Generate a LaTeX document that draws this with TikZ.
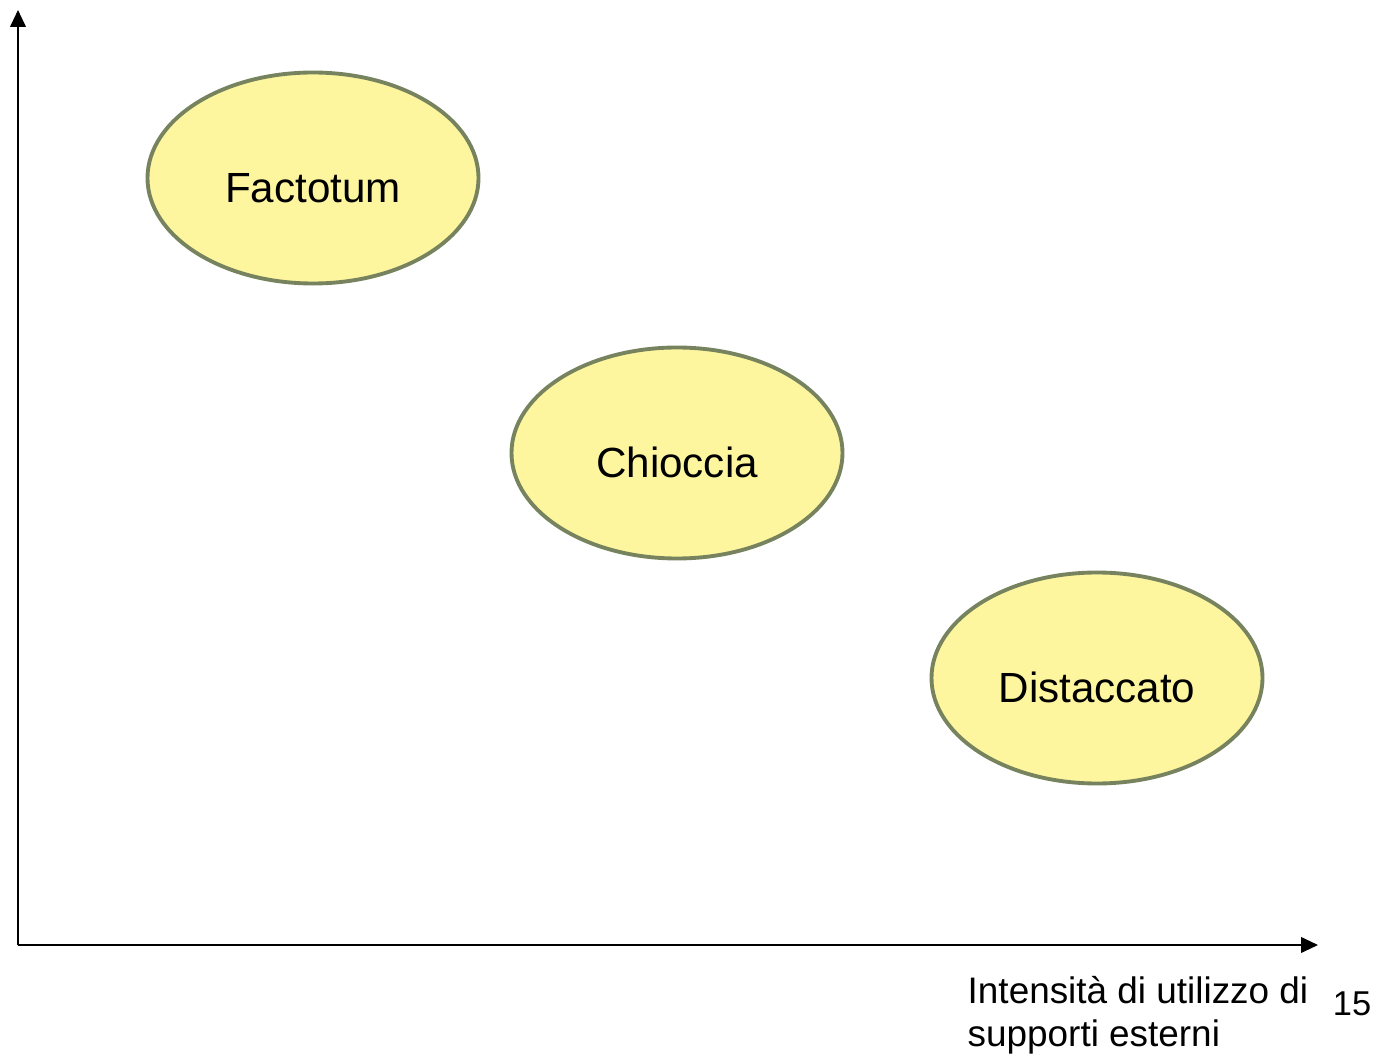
\documentclass[tikz,border=0pt]{standalone}
\usepackage{fontspec}
\setmainfont{Liberation Sans}
\usetikzlibrary{positioning}
\usetikzlibrary{shapes.geometric}
\usetikzlibrary{arrows.meta}

\definecolor{blobfill}{HTML}{FEF69F}
\definecolor{blobline}{HTML}{76835E}

\begin{document}
\begin{tikzpicture}[
  blob/.style={ellipse,draw=blobline,fill=blobfill,line width=1.1pt,
    minimum width=3.31cm,minimum height=2.11cm,inner sep=0pt,
    text height=14pt,text depth=0pt,font=\fontsize{12}{14}\selectfont},
  axis/.style={line width=0.6pt,-{Triangle[length=4.8pt,width=4.4pt]}}]
\useasboundingbox (0,0) rectangle (13.74,10.56);
\coordinate (o) at (0.18,1.11);
\coordinate (ytop) at (0.18,10.46);
\coordinate (xend) at (13.18,1.11);
\draw[axis] (o) -- (ytop);
\draw[axis] (o) -- (xend);

\node[blob] (fact) at (3.13,8.78) {Factotum};
\node[blob] (chio) at (6.77,6.03) {Chioccia};
\node[blob] (dist) at (10.97,3.78) {Distaccato};

\node[anchor=north west,inner sep=0pt,align=left,
  font=\fontsize{10.5}{12}\selectfont] (xlab) at (9.67,0.80)
  {Intensità di utilizzo di\\supporti esterni};
\node[anchor=base,inner sep=0pt,font=\fontsize{9.8}{11}\selectfont] (num) at (13.52,0.41) {15};
\end{tikzpicture}
\end{document}
